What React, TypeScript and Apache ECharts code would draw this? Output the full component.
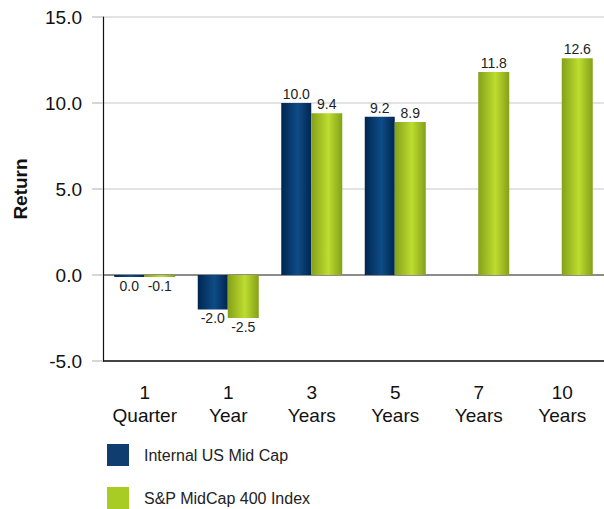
import React, { useEffect, useRef } from "react";
import * as echarts from "echarts";

const categories = ["1\nQuarter", "1\nYear", "3\nYears", "5\nYears", "7\nYears", "10\nYears"];
const internalUS = [-0.03, -2.0, 10.0, 9.2, null, null];
const sp400 = [-0.1, -2.5, 9.4, 8.9, 11.8, 12.6];
const seriesNames = ["Internal US Mid Cap", "S&P MidCap 400 Index"];
const yTicks = { min: -5, max: 15, interval: 5 };

const FONT = "'Liberation Sans', Arial, sans-serif";

function grad(edge: string, mid: string) {
  return new echarts.graphic.LinearGradient(0, 0, 1, 0, [
    { offset: 0, color: edge },
    { offset: 0.55, color: mid },
    { offset: 1, color: edge },
  ]);
}

function fmt(v: number) {
  if (Math.abs(v) < 0.05) return "0.0";
  return v.toFixed(1);
}

function toData(arr: (number | null)[]) {
  return arr.map((v) =>
    v === null
      ? null
      : { value: v, label: { position: v < 0 ? "bottom" : "top" } }
  );
}

export default function App() {
  const ref = useRef<HTMLDivElement>(null);
  useEffect(() => {
    const chart = echarts.init(ref.current!, null, { renderer: "svg" });
    const labelCfg = {
      show: true,
      fontSize: 14,
      fontFamily: FONT,
      color: "#222",
      distance: 2,
      formatter: (p: any) => fmt(p.value),
    };
    chart.setOption({
      animation: false,
      textStyle: { fontFamily: FONT },
      grid: { left: 103, right: 0, top: 17, bottom: 148, containLabel: false },
      legend: {
        orient: "vertical",
        left: 107,
        top: 444,
        padding: 0,
        itemWidth: 22,
        itemHeight: 22,
        itemGap: 21,
        icon: "rect",
        textStyle: { fontSize: 16, color: "#222", fontFamily: FONT, padding: [0, 0, 0, 10] },
        data: [
          { name: seriesNames[0], itemStyle: { color: "#0f3d70" } },
          { name: seriesNames[1], itemStyle: { color: "#a9cc24" } },
        ],
      },
      xAxis: {
        type: "category",
        data: categories,
        axisLine: { onZero: false, lineStyle: { color: "#111", width: 1.5 } },
        axisTick: { alignWithLabel: true, length: 13, lineStyle: { color: "#c8ccd2", width: 3 } },
        axisLabel: { interval: 0, fontSize: 19, color: "#111", lineHeight: 23, margin: 20, fontFamily: FONT },
      },
      yAxis: {
        type: "value",
        min: yTicks.min,
        max: yTicks.max,
        interval: yTicks.interval,
        name: "Return",
        nameLocation: "middle",
        nameGap: 73,
        nameTextStyle: { fontSize: 19, fontWeight: "bold", color: "#111", fontFamily: FONT },
        axisLine: { show: true, lineStyle: { color: "#111", width: 1.2 } },
        axisTick: { show: true, length: 11, lineStyle: { color: "#d6d6d6", width: 2 } },
        axisLabel: {
          fontSize: 19,
          color: "#111",
          margin: 21,
          fontFamily: FONT,
          formatter: (v: number) => v.toFixed(1),
        },
        splitLine: {
          show: true,
          lineStyle: { color: ["#dadada", "#666", "#dadada", "#dadada", "#dadada"], width: 1.6 },
        },
      },
      series: [
        {
          name: seriesNames[0],
          type: "bar",
          data: toData(internalUS),
          barWidth: 30,
          barGap: "0%",
          barMinHeight: 2,
          itemStyle: { color: grad("#00264f", "#0e4c88") },
          label: labelCfg,
        },
        {
          name: seriesNames[1],
          type: "bar",
          data: toData(sp400),
          barWidth: 31,
          barGap: "0%",
          barMinHeight: 2,
          itemStyle: { color: grad("#84a019", "#bddd2f") },
          label: labelCfg,
        },
      ],
    });
    return () => chart.dispose();
  }, []);
  return (
    <div
      ref={ref}
      style={{ position: "fixed", left: 0, top: 0, width: 604, height: 509, background: "#fff" }}
    />
  );
}
